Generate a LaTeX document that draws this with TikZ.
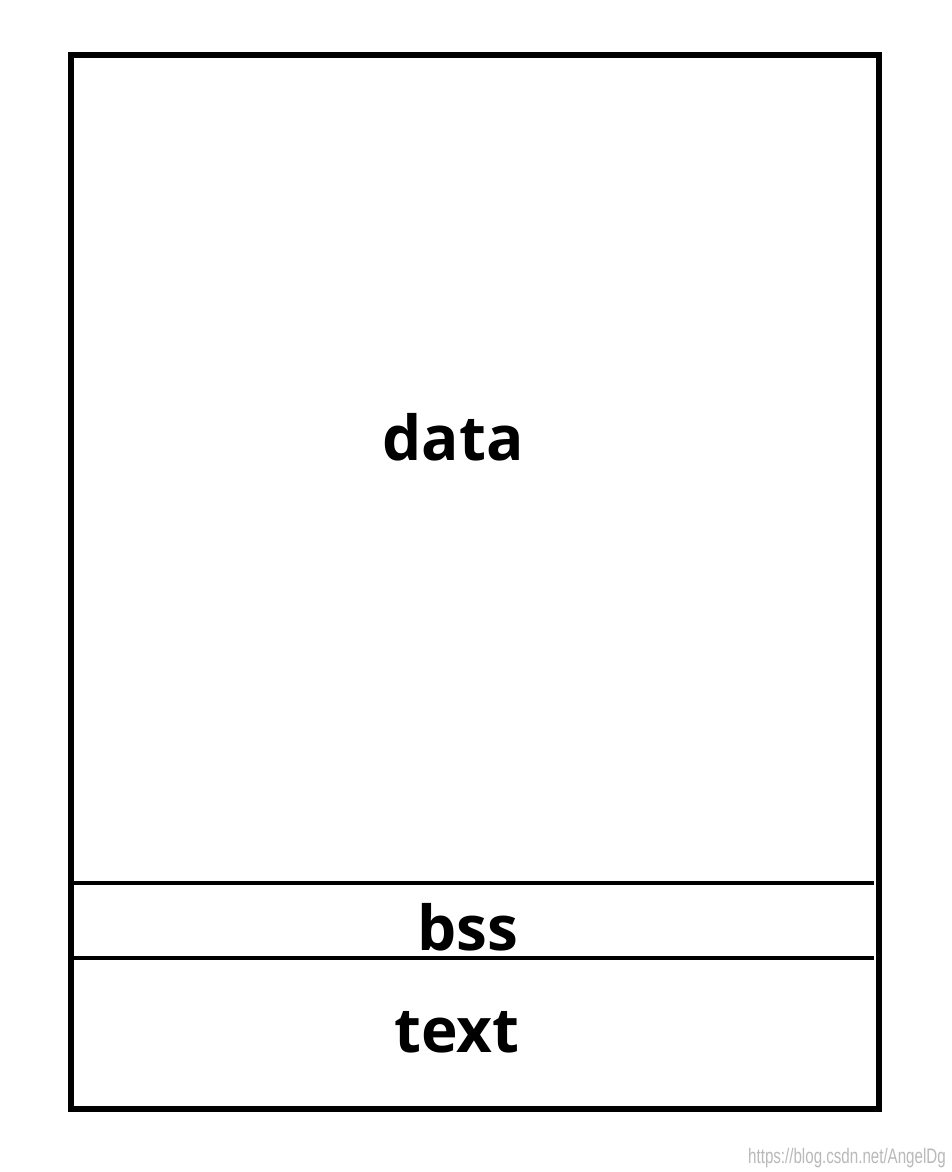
\documentclass[tikz,border=0pt]{standalone}
\usepackage{fontspec}
\setmainfont{Open Sans}
\newfontfamily\markfont{Liberation Sans}
\definecolor{markgray}{RGB}{185,185,185}
\begin{document}
\begin{tikzpicture}[x=0.5pt,y=-0.5pt,
    seglabel/.style={anchor=base,inner sep=0pt,font=\fontsize{31}{36}\selectfont\bfseries},
    outline/.style={line width=2.6pt,black},
    divider/.style={line width=1.6pt,black}]
    \useasboundingbox[fill=white] (0,0) rectangle (952,1172);

    \coordinate(tl) at (71,55);
    \coordinate(br) at (879,1109);
    \coordinate(bssl) at (71,883);
    \coordinate(bssr) at (874,883);
    \coordinate(textl) at (71,958);
    \coordinate(textr) at (874,958);

    \draw[outline] (tl) rectangle (br);
    \draw[divider] (bssl) -- (bssr);
    \draw[divider] (textl) -- (textr);

    \node(data) [seglabel] at (453,460) {data};
    \node(bss) [seglabel] at (468,950) {bss};
    \node(text) [seglabel] at (457,1052) {text};

    \node(mark) [anchor=base east,inner sep=0pt,text=markgray,xscale=0.72,
        font=\markfont\fontsize{10.5}{12}\selectfont] at (946,1163) {https://blog.csdn.net/AngelDg};
\end{tikzpicture}
\end{document}
